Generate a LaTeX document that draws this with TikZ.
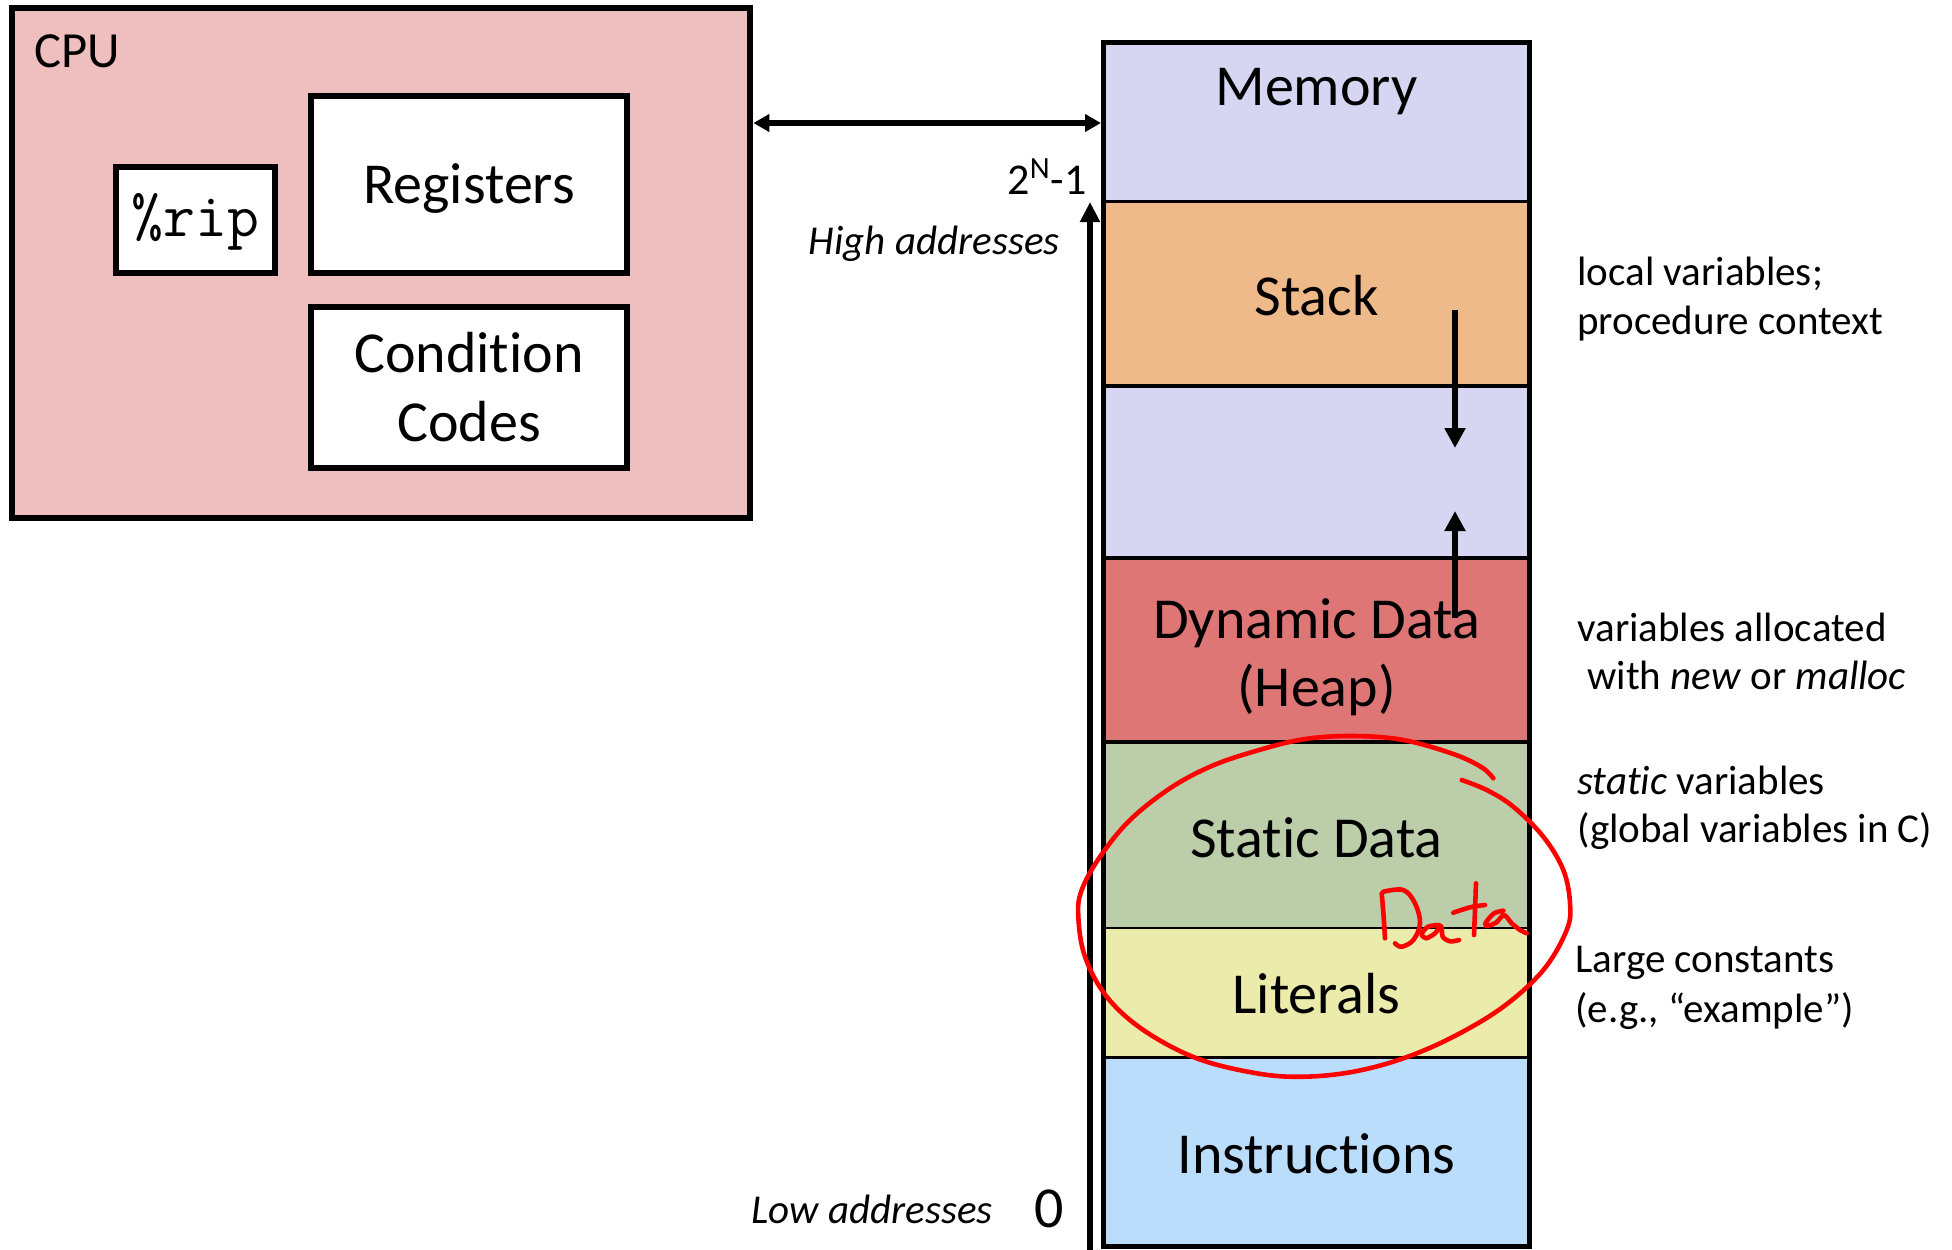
\documentclass[tikz,border=0pt]{standalone}
\usepackage{fontspec}
\setmainfont{Carlito}[Ligatures=NoCommon, RawFeature={-liga;-clig;-calt;-dlig}]
\usetikzlibrary{arrows.meta}
\definecolor{cpufill}{RGB}{239,191,192}
\definecolor{memfill}{RGB}{214,214,243}
\definecolor{stackfill}{RGB}{238,186,137}
\definecolor{heapfill}{RGB}{222,118,118}
\definecolor{staticfill}{RGB}{188,205,170}
\definecolor{litfill}{RGB}{235,235,171}
\definecolor{instrfill}{RGB}{187,221,252}
\definecolor{inkred}{RGB}{255,0,0}
\tikzset{
  cpubox/.style={draw=black, line width=3.35pt, fill=cpufill, inner sep=0pt},
  regbox/.style={draw=black, line width=3pt, fill=white, inner sep=0pt},
  membox/.style={draw=black, line width=2.5pt, inner sep=0pt},
  divider/.style={draw=black, line width=1.6pt},
  bigtext/.style={font=\fontsize{29}{34}\selectfont, inner sep=0pt, anchor=base},
  notetext/.style={font=\fontsize{20.5}{24.6}\selectfont, inner sep=0pt, anchor=base west},
  addrtext/.style={font=\fontsize{20.5}{24.6}\selectfont\itshape, inner sep=0pt, anchor=base east},
  dblarrow/.style={line width=2.8pt, {Triangle[length=8pt,width=8.5pt]}-{Triangle[length=8pt,width=8.5pt]}},
  addrarrow/.style={line width=3pt, -{Triangle[length=10pt,width=9.5pt]}},
  growarrow/.style={line width=3.2pt, -{Triangle[length=10pt,width=10pt]}},
  ink/.style={draw=inkred, line width=2.3pt, line cap=round, line join=round},
}
\begin{document}
\begin{tikzpicture}[x=0.5pt,y=-0.5pt]
\useasboundingbox (0,0) rectangle (1952,1249);
\fill[white] (0,0) rectangle (1952,1249);

% CPU
\node[cpubox, minimum width=369pt, minimum height=255pt] (cpu) at (381,263) {};
\node[font=\fontsize{25.3}{30}\selectfont, inner sep=0pt, anchor=base west] (cpulbl) at (34,67) {CPU};
\node[regbox, minimum width=79.75pt, minimum height=53.25pt] (rip) at (195.25,219.75) {};
\node[font=\fontsize{31}{36}\selectfont\ttfamily, inner sep=0pt, anchor=base] (riptxt) at (195.25,236) {\%rip};
\node[regbox, minimum width=158pt, minimum height=88.5pt] (reg) at (469,184.5) {};
\node[bigtext] (regtxt) at (469,203) {Registers};
\node[regbox, minimum width=158pt, minimum height=80.25pt] (cc) at (469,387.25) {};
\node[bigtext] (cctxt1) at (469,372) {Condition};
\node[bigtext] (cctxt2) at (469,441) {Codes};

% Memory segments
\fill[memfill]    (1103.5,42)    rectangle (1529.5,201.5);
\fill[stackfill]  (1103.5,201.5) rectangle (1529.5,386);
\fill[memfill]    (1103.5,386)   rectangle (1529.5,557.5);
\fill[heapfill]   (1103.5,557.5) rectangle (1529.5,742);
\fill[staticfill] (1103.5,742)   rectangle (1529.5,928);
\fill[litfill]    (1103.5,928)   rectangle (1529.5,1057);
\fill[instrfill]  (1103.5,1057)  rectangle (1529.5,1246);
\draw[divider] (1103.5,201.5) -- (1529.5,201.5);
\draw[divider] (1103.5,386) -- (1529.5,386);
\draw[divider, line width=2pt] (1103.5,557.5) -- (1529.5,557.5);
\draw[divider, line width=2.4pt] (1103.5,742) -- (1529.5,742);
\draw[divider, line width=1.3pt] (1103.5,928) -- (1529.5,928);
\draw[divider, line width=1.5pt] (1103.5,1057) -- (1529.5,1057);
\node[membox, minimum width=213pt, minimum height=602pt] (mem) at (1316.5,644) {};

\node[bigtext] (memtxt) at (1316.5,105) {Memory};
\node[bigtext] (stacktxt) at (1316.5,315) {Stack};
\node[bigtext] (heaptxt1) at (1316.5,638) {Dynamic Data};
\node[bigtext] (heaptxt2) at (1316.5,706) {(Heap)};
\node[bigtext] (stattxt) at (1316.5,857) {Static Data};
\node[bigtext] (littxt) at (1316.5,1013) {Literals};
\node[bigtext] (instrtxt) at (1316.5,1173) {Instructions};

% Arrows
\coordinate (busy) at (0,123);
\draw[dblarrow] (cpu.east |- busy) -- (mem.west |- busy);
\coordinate (addrlow) at (1090,1262);
\coordinate (addrhigh) at (1090,202);
\draw[addrarrow] (addrlow) -- (addrhigh);
\coordinate (stackfrom) at (1455,310);
\coordinate (stackto) at (1455,448);
\draw[growarrow] (stackfrom) -- (stackto);
\coordinate (heapfrom) at (1455,618);
\coordinate (heapto) at (1455,511);
\draw[growarrow] (heapfrom) -- (heapto);

% address labels
\node[font=\fontsize{22}{26}\selectfont, inner sep=0pt, anchor=base east] (hinum) at (1087,194) {2\textsuperscript{N}-1};
\node[addrtext] (hitxt) at (1060,254) {High addresses};
\node[addrtext] (lotxt) at (993,1223) {Low addresses};
\node[font=\fontsize{29}{34}\selectfont, inner sep=0pt, anchor=base] (lonum) at (1049,1227) {0};

% annotations
\node[notetext] (n1a) at (1577,285) {local variables;};
\node[notetext] (n1b) at (1577,334) {procedure context};
\node[notetext] (n2a) at (1577,641) {variables allocated};
\node[notetext] (n2b) at (1587,689) {with \textit{new} or \textit{malloc}};
\node[notetext] (n3a) at (1577,794) {\textit{static} variables};
\node[notetext] (n3b) at (1577,842) {(global variables in C)};
\node[notetext] (n4a) at (1575,972) {Large constants};
\node[notetext] (n4b) at (1575,1022) {(e.g., “example”)};

% red ink circle
\draw[ink] plot[smooth, tension=0.6] coordinates {
 (1493.3,778.3) (1481.7,767.3) (1453.3,754) (1403.3,740) (1353.3,736)
 (1303.3,739.3) (1253.3,751.7) (1210,766.7) (1170,788.3) (1130,820)
 (1100,856.7) (1081.7,890) (1078.3,916.7) (1085,956.7) (1106.7,996.7)
 (1143.3,1030) (1196.7,1058.3) (1256.7,1073.3) (1303.3,1076.7) (1353.3,1071.7)
 (1403.3,1058.3) (1453.3,1036.7) (1503.3,1006.7) (1543.3,970) (1566.7,930)
 (1570,903.3) (1563.3,870) (1543.3,836.7) (1513.3,806.7) (1486.7,790) (1461.7,780)};

% red ink "Data"
\draw[ink] plot[smooth] coordinates {(1381.7,893.3) (1383.5,915) (1385,938.3)};
\draw[ink] plot[smooth, tension=0.6] coordinates {(1383.3,891.7) (1403.3,890) (1415,903.3) (1420,923.3) (1413.3,940) (1401.7,946.7) (1395,943.3)};
\draw[ink] plot[smooth, tension=0.5] coordinates {(1439,925) (1428,926.7) (1421.7,934) (1426,938.3) (1435,933.3) (1441,926) (1442.7,936.7) (1450,941.3) (1459,940)};
\draw[ink] plot[smooth] coordinates {(1476,883.3) (1475,910) (1474,935)};
\draw[ink] plot[smooth] coordinates {(1453.3,912.7) (1470,907.3) (1485,905)};
\draw[ink] plot[smooth, tension=0.5] coordinates {(1503.3,910.7) (1494,913.3) (1485.7,922.7) (1486.7,926) (1496,922.7) (1504,915) (1511.7,923.3) (1520,930) (1526.7,933.3)};
\end{tikzpicture}
\end{document}
